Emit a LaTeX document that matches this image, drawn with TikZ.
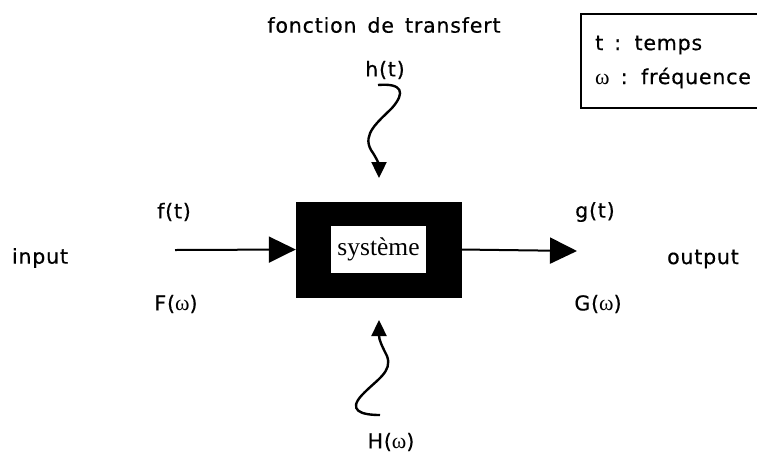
\documentclass[tikz,border=0pt]{standalone}
\usepackage{fontspec}
\setmainfont{DejaVu Sans}[LetterSpace=4, WordSpace=1.5, FakeBold=0.5]
\newfontfamily\serifsys{Liberation Serif}
\usepackage{tikz}
\usetikzlibrary{arrows.meta, positioning}
\newcommand{\omg}{{\serifsys\fontsize{22}{22}\selectfont ω}}

\begin{document}
\begin{tikzpicture}[
  x=1pt, y=-1pt,
  lbl/.style={inner sep=0pt, font=\fontsize{20.5}{24}\selectfont},
  sysbox/.style={rectangle, draw=black, fill=black,
                 minimum width=165pt, minimum height=95pt, inner sep=0pt},
  corebox/.style={rectangle, fill=white, minimum width=95pt, minimum height=47pt,
                  inner sep=0pt, font=\serifsys\fontsize{25.5}{25.5}\selectfont},
  flow/.style={-{Triangle[length=27pt, width=26pt]}, line width=2pt},
  wave/.style={-{Triangle[length=16pt, width=15pt]}, line width=2.4pt}
]
\useasboundingbox (0,0) rectangle (757,456);

% central system
\node[sysbox] (sys) at (378.5,249.5) {};
\node[corebox] (core) at (sys.center) {système};

% input / output
\coordinate (fin)  at (175,250);
\coordinate (gout) at (577,251);
\draw[flow] (fin) -- (sys.west);
\draw[flow] (sys.east) -- (gout);

\node[lbl] (input)  at (40,258)  {input};
\node[lbl] (ft)     at (174,212) {f(t)};
\node[lbl] (Fw)     at (176,304) {F(\omg)};
\node[lbl] (output) at (703,259) {output};
\node[lbl] (gt)     at (595,212) {g(t)};
\node[lbl] (Gw)     at (598,304) {G(\omg)};

% transfer function
\node[lbl] (title) at (384,25)  {fonction de transfert};
\node[lbl] (ht)    at (385,70)  {h(t)};
\node[lbl] (Hw)    at (391,442) {H(\omg)};

\coordinate (hs)   at (378,85);
\coordinate (htip) at (379,178);
\coordinate (Hs)   at (380,415);
\coordinate (Htip) at (379,320);
\draw[wave] (hs) .. controls (402,83) and (406,92) .. (392,108)
            .. controls (378,122) and (362,134) .. (371,150)
            .. controls (378,160) and (379,166) .. (htip);
\draw[wave] (Hs) .. controls (360,415) and (348,410) .. (362,395)
            .. controls (376,380) and (393,372) .. (387,356)
            .. controls (382,346) and (379,340) .. (Htip);

% legend
\draw[line width=1.5pt] (757,14) -- (581,14) -- (581,108) -- (757,108);
\node[lbl, anchor=west] (leg1) at (595,45) {t : temps};
\node[lbl, anchor=west] (leg2) at (595,78) {\omg{} : fréquence};
\end{tikzpicture}
\end{document}
